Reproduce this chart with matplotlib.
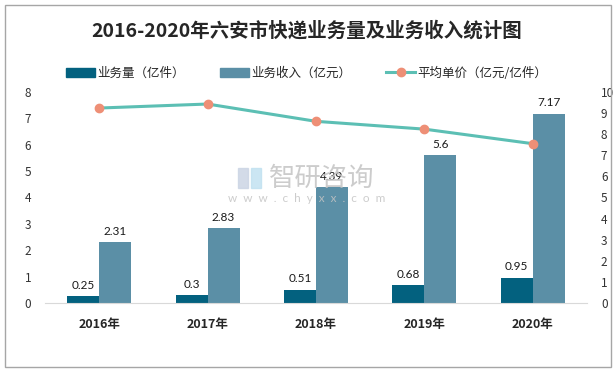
import numpy as np
import matplotlib
matplotlib.use("Agg")
import matplotlib.pyplot as plt
from matplotlib.patches import Rectangle
from matplotlib.lines import Line2D

plt.rcParams['font.family'] = ['Noto Sans CJK SC', 'DejaVu Sans']

years = ['2016年', '2017年', '2018年', '2019年', '2020年']
volume = [0.25, 0.3, 0.51, 0.68, 0.95]          # 业务量（亿件）
revenue = [2.31, 2.83, 4.39, 5.6, 7.17]         # 业务收入（亿元）
unit_price = [9.24, 9.43, 8.61, 8.24, 7.55]     # 平均单价（亿元/亿件）

c_dark = '#03617f'
c_light = '#5b8fa6'
c_line = '#5cbfb4'
c_mark = '#ee8f76'

fig = plt.figure(figsize=(6.14, 3.72), dpi=100)
fig.patch.set_facecolor('white')
fig.add_artist(Rectangle((5/614, 5/372), 606/614, 362/372, transform=fig.transFigure,
                         fill=False, edgecolor='#a6a6a6', linewidth=1.0))

ax = fig.add_axes([45/614, 69/372, 542/614, 211/372])
ax2 = ax.twinx()

x = np.arange(len(years))
w = 0.295
b1 = ax.bar(x - w/2, volume, w, color=c_dark, zorder=2)
b2 = ax.bar(x + w/2, revenue, w, color=c_light, zorder=2)

for bars, vals in [(b1, volume), (b2, revenue)]:
    for r, v in zip(bars, vals):
        ax.annotate(f'{v:g}', (r.get_x() + r.get_width()/2, v), xytext=(0, 4),
                    textcoords='offset points', ha='center', va='bottom',
                    fontsize=8.5, color='#1a1a1a', family=['Lato', 'DejaVu Sans'], zorder=5)

ax2.plot(x, unit_price, color=c_line, linewidth=2.2, marker='o', markersize=6,
         markerfacecolor=c_mark, markeredgecolor=c_mark, zorder=3)

ax.set_xlim(-0.5, 4.5)
ax.set_ylim(0, 8)
ax2.set_ylim(0, 10)
ax.set_yticks(range(0, 9))
ax2.set_yticks(range(0, 11))
ax.set_xticks(x)
ax.set_xticklabels(years, fontsize=9, fontweight='bold', color='#262626')
ax.tick_params(axis='x', length=0, pad=11)
ax.tick_params(axis='y', length=0, pad=10, labelsize=8.5, labelcolor='#333333')
ax2.tick_params(axis='y', length=0, pad=10, labelsize=8.5, labelcolor='#333333')
for a in (ax, ax2):
    for s in a.spines.values():
        s.set_visible(False)
ax.spines['bottom'].set_visible(True)
ax.spines['bottom'].set_color('#d9d9d9')

# watermark
fig.add_artist(Rectangle((238/614, 1 - 188/372), 10/614, 20/372, transform=fig.transFigure,
                         color='#c9d3e3', alpha=0.8, zorder=1))
fig.add_artist(Rectangle((251/614, 1 - 188/372), 10/614, 20/372, transform=fig.transFigure,
                         color='#bfe0f0', alpha=0.8, zorder=1))
fig.text(322/614, 1 - 178/372, '智研咨询', ha='center', va='center', fontsize=19,
         color='#c4c4c4', alpha=0.85, zorder=1)
fig.text(307/614, 1 - 198/372, 'w  w  w  .  c  h  y  x  x  .  c  o  m', ha='center', va='center',
         fontsize=8.5, color='#c4c4c4', alpha=0.85, family=['Lato', 'DejaVu Sans'])

fig.text(0.5, 1 - 31/372, '2016-2020年六安市快递业务量及业务收入统计图', ha='center',
         va='center', fontsize=14, fontweight='bold', color='#262626')

handles = [Rectangle((0, 0), 1, 1, color=c_dark),
           Rectangle((0, 0), 1, 1, color=c_light),
           Line2D([], [], color=c_line, linewidth=2.2, marker='o', markersize=6,
                  markerfacecolor=c_mark, markeredgecolor=c_mark)]
labels = ['业务量（亿件）', '业务收入（亿元）', '平均单价（亿元/亿件）']
fig.legend(handles, labels, loc='center', bbox_to_anchor=(0.5, 1 - 73/372), ncol=3,
           frameon=False, fontsize=9, handlelength=2.3, handleheight=0.7,
           columnspacing=2.8, handletextpad=0.2, labelcolor='#262626')

fig.savefig('out.png', dpi=100)
